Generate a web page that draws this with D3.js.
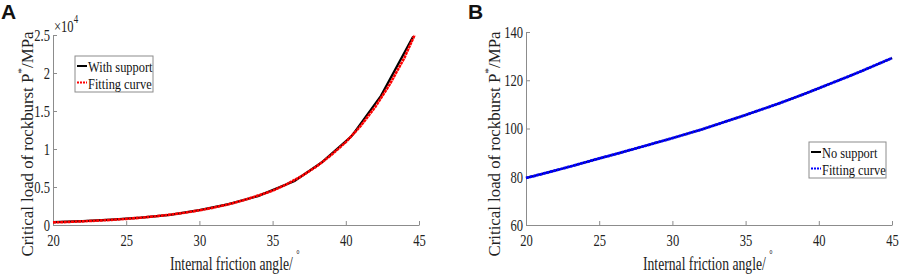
<!DOCTYPE html>
<html>
<head>
<meta charset="utf-8">
<script src="https://cdn.jsdelivr.net/npm/d3@7"></script>
<style>
  body { margin: 0; background: #fff; }
  svg { display: block; font-family: "Liberation Serif", "Times New Roman", serif; }
  .axis path, .axis line { stroke: #8c8c8c; }
  .axis text { fill: #222; font-size: 17px; font-family: "Liberation Serif", serif; }
</style>
</head>
<body>
<div id="chart"></div>
<script>
// panel A: with support (axis shown in units of 10^4)
const angleA = [20, 22, 24, 26, 28, 30, 32, 34, 36.5, 38.4, 40.4, 42.4, 44.6];
const supportA = [380, 520, 700, 960, 1330, 1950, 2750, 3800, 5800, 8300, 11700, 17000, 24800];
const fitAngleA = [20, 21, 22, 23, 24, 25, 26, 27, 28, 29, 30, 31, 32, 33, 34, 35, 36, 37, 38, 39, 40, 41, 42, 43, 44, 44.7];
const fitA = [340, 400, 480, 570, 680, 810, 960, 1145, 1360, 1620, 1930, 2300, 2730, 3250, 3870, 4500, 5400, 6450, 7700, 9200, 10900, 13000, 15500, 18500, 22000, 25000];
const ticksX = [20, 25, 30, 35, 40, 45];
const ticksAy = [0, 5000, 10000, 15000, 20000, 25000];

// panel B: no support
const angleB = [20, 21, 22, 23, 24, 25, 26, 27, 28, 29, 30, 31, 32, 33, 34, 35, 36, 37, 38, 39, 40, 41, 42, 43, 44, 45];
const noSupportB = [79.5, 81.0, 82.6, 84.2, 85.9, 87.6, 89.2, 90.9, 92.6, 94.3, 96.0, 97.8, 99.6, 101.6, 103.6, 105.6, 107.7, 109.8, 112.0, 114.3, 116.7, 119.1, 121.5, 124.0, 126.6, 129.2];
const fitB = noSupportB.slice();
const ticksBy = [60, 80, 100, 120, 140];

const W = 899, H = 277;
const SX = 0.74; // figure text is narrow (squeezed horizontally)
const svg = d3.select("#chart").append("svg").attr("width", W).attr("height", H);

// text placed at (x,y) then scaled, so the anchor stays put
function label(parent, x, y, size, sx, anchor) {
  return parent.append("text")
    .attr("transform", `translate(${x},${y}) scale(${sx},1)`)
    .attr("font-size", size).attr("fill", "#222")
    .attr("text-anchor", anchor || "start");
}

function panel(o) {
  const x = d3.scaleLinear().domain([20, 45]).range([o.x0, o.x1]);
  const y = d3.scaleLinear().domain(o.yDomain).range([o.y0, o.y1]);
  const g = svg.append("g");

  const ax = g.append("g").attr("class", "axis").attr("transform", `translate(0,${o.y0})`)
    .call(d3.axisBottom(x).tickValues(ticksX).tickSize(-4).tickPadding(9).tickSizeOuter(0));
  ax.selectAll(".tick text").attr("transform", `scale(${SX},1)`);
  const ay = g.append("g").attr("class", "axis").attr("transform", `translate(${o.x0},0)`)
    .call(d3.axisLeft(y).tickValues(o.yTicks).tickSize(-4).tickPadding(4).tickSizeOuter(0).tickFormat(o.fmt));
  ay.selectAll(".tick text").attr("transform", `scale(${SX},1)`);
  g.selectAll(".axis .domain").attr("stroke", "#8c8c8c");

  const line = d3.line().x(d => x(d[0])).y(d => y(d[1]));
  o.series.forEach(s => {
    g.append("path").datum(d3.zip(s.xs, s.ys)).attr("d", line)
      .attr("fill", "none").attr("stroke", s.color).attr("stroke-width", s.w)
      .attr("stroke-dasharray", s.dash || null);
  });

  // legend
  const lg = g.append("g").attr("transform", `translate(${o.lx},${o.ly})`);
  lg.append("rect").attr("width", o.lw).attr("height", 36)
    .attr("fill", "#fff").attr("stroke", "#8c8c8c");
  o.series.forEach((s, i) => {
    const yy = 10 + i * 16.5;
    lg.append("line").attr("x1", 2).attr("x2", 12).attr("y1", yy).attr("y2", yy)
      .attr("stroke", s.color).attr("stroke-width", 2).attr("stroke-dasharray", s.dash ? "2,1" : null);
    label(lg, 13, yy + 6, 15.5, 0.8).attr("fill", "#111").text(s.name);
  });

  // x title
  const xt = label(g, o.xlx, 270, 19.5, 0.7);
  xt.append("tspan").text("Internal friction angle/ ");
  xt.append("tspan").attr("dy", -12).attr("font-size", 12).text("°");

  // y title
  const yt = g.append("text")
    .attr("transform", `translate(${o.ylx},${o.ycy}) rotate(-90) scale(0.96,0.95)`)
    .attr("text-anchor", "middle").attr("font-size", 17.5).attr("fill", "#222");
  yt.append("tspan").text("Critical load of rockburst P");
  yt.append("tspan").attr("dy", -8).attr("font-size", 12).text("*");
  yt.append("tspan").attr("dy", 8).text("/MPa");

  svg.append("text").attr("x", o.px).attr("y", 19).attr("font-family", "Liberation Sans, Arial, sans-serif")
    .attr("font-weight", "bold").attr("font-size", 21).attr("fill", "#111").text(o.tag);
  return { x, y };
}

panel({
  tag: "A", px: 1, x0: 53, x1: 419, y0: 225, y1: 35, yDomain: [0, 25000], yTicks: ticksAy,
  fmt: d => d === 0 ? "0" : d3.format("~g")(d / 10000),
  series: [
    { name: "With support", xs: angleA, ys: supportA, color: "#000", w: 2.2 },
    { name: "Fitting curve", xs: fitAngleA, ys: fitA, color: "#ff0000", w: 2.6, dash: "3,0.6" }
  ],
  lx: 75, ly: 56, lw: 78, xlx: 170, ylx: 33, ycy: 144
});

const tx = label(svg, 54, 32, 17, SX);
tx.append("tspan").text("×10");
tx.append("tspan").attr("dy", -9).attr("font-size", 12).text("4");

panel({
  tag: "B", px: 468, x0: 526, x1: 892, y0: 225, y1: 32, yDomain: [60, 140], yTicks: ticksBy,
  fmt: d3.format("d"),
  series: [
    { name: "No support", xs: angleB, ys: noSupportB, color: "#000", w: 2 },
    { name: "Fitting curve", xs: angleB, ys: fitB, color: "#0000ff", w: 2.8, dash: "3,0.5" }
  ],
  lx: 809, ly: 142, lw: 77, xlx: 643, ylx: 500, ycy: 144
});
</script>
</body>
</html>
